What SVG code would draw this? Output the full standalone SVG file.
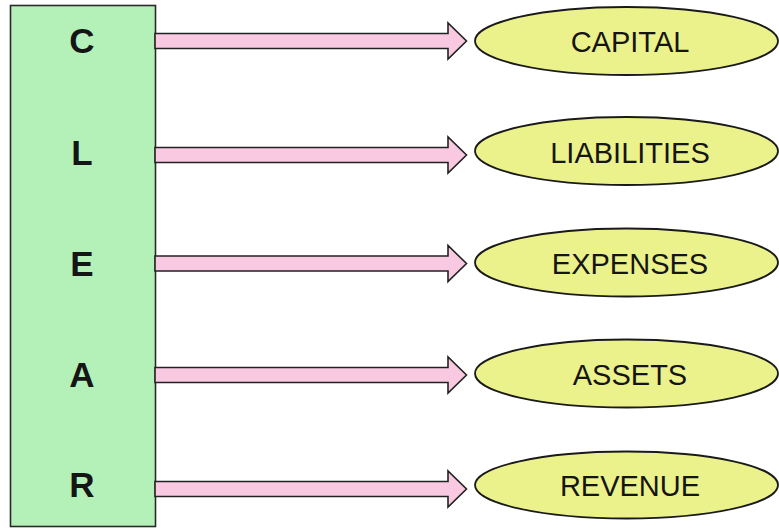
<svg xmlns="http://www.w3.org/2000/svg" width="779" height="529" viewBox="0 0 779 529">
  <style>
    .bar { fill: #b4f1b9; stroke: #2a2a2a; stroke-width: 1.6; }
    .letter { font-family: "Liberation Sans", Arial, sans-serif; font-weight: bold; font-size: 35px; fill: #151515; text-anchor: middle; }
    .arrow { fill: #f9c8e1; stroke: #222; stroke-width: 1.6; stroke-linejoin: miter; }
    .term { fill: #ecf28b; stroke: #1a1a1a; stroke-width: 1.8; }
    .label { font-family: "Liberation Sans", Arial, sans-serif; font-size: 29px; fill: #151515; text-anchor: middle; }
  </style>
  <defs>
    <!-- block arrow centred on y=0, from the bar edge to the tip -->
    <polygon id="blockArrow" points="155,-7.5 448,-7.5 448,-18 466.5,0 448,18 448,7.5 155,7.5"/>
  </defs>

  <!-- acronym column -->
  <g id="acronym">
    <rect class="bar" x="10.5" y="5.5" width="145" height="521"/>
    <text class="letter" x="82" y="53">C</text>
    <text class="letter" x="82" y="165">L</text>
    <text class="letter" x="82" y="276">E</text>
    <text class="letter" x="82" y="387">A</text>
    <text class="letter" x="82" y="497">R</text>
  </g>

  <!-- connectors -->
  <g id="connectors">
    <use href="#blockArrow" class="arrow" transform="translate(0,41)"/>
    <use href="#blockArrow" class="arrow" transform="translate(0,155)"/>
    <use href="#blockArrow" class="arrow" transform="translate(0,263.5)"/>
    <use href="#blockArrow" class="arrow" transform="translate(0,375)"/>
    <use href="#blockArrow" class="arrow" transform="translate(0,489)"/>
  </g>

  <g id="capital">
    <ellipse class="term" cx="626.5" cy="41" rx="151.5" ry="34"/>
    <text class="label" x="630" y="52">CAPITAL</text>
  </g>
  <g id="liabilities">
    <ellipse class="term" cx="626.5" cy="151" rx="151.5" ry="34"/>
    <text class="label" x="630" y="163">LIABILITIES</text>
  </g>
  <g id="expenses">
    <ellipse class="term" cx="626.5" cy="262.5" rx="151.5" ry="34"/>
    <text class="label" x="630" y="273.5">EXPENSES</text>
  </g>
  <g id="assets">
    <ellipse class="term" cx="626.5" cy="373.5" rx="151.5" ry="34"/>
    <text class="label" x="630" y="384.5">ASSETS</text>
  </g>
  <g id="revenue">
    <ellipse class="term" cx="626.5" cy="485" rx="151.5" ry="33.5"/>
    <text class="label" x="630" y="495.5">REVENUE</text>
  </g>
</svg>
